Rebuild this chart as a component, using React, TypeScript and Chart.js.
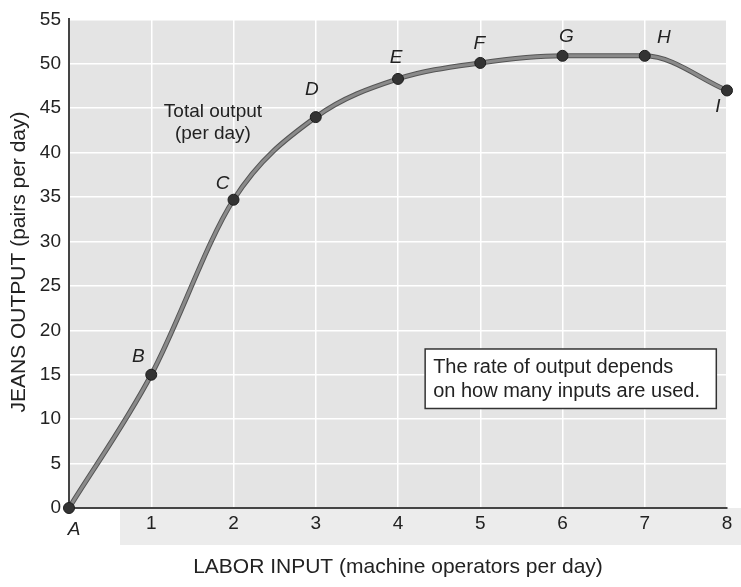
import React, { useEffect, useRef } from "react";
import { Chart, registerables } from "chart.js";
Chart.register(...registerables);

const laborInput = [0, 1, 2, 3, 4, 5, 6, 7, 8];
const jeansOutput = [0, 15, 34.7, 44, 48.3, 50.1, 50.9, 50.9, 47];
const pointLetters = ["A", "B", "C", "D", "E", "F", "G", "H", "I"];
const xTickLabels = ["", "1", "2", "3", "4", "5", "6", "7", "8"];
const curveLabel = ["Total output", "(per day)"];
const noteLines = ["The rate of output depends", "on how many inputs are used."];
const xTitle = "LABOR INPUT (machine operators per day)";
const yTitle = "JEANS OUTPUT (pairs per day)";

const FONT = "'Liberation Sans', Arial, Helvetica, sans-serif";

// pixel offsets of letter labels relative to their points
const letterOffsets: Record<string, [number, number]> = {
  A: [5, 22],
  B: [-13, -18],
  C: [-11, -16],
  D: [-4, -27],
  E: [-2, -21],
  F: [-1, -19],
  G: [4, -19],
  H: [19, -18],
  I: [-9, 16],
};

export default function App() {
  const ref = useRef<HTMLCanvasElement | null>(null);

  useEffect(() => {
    document.body.style.margin = "0";
    const canvas = ref.current;
    if (!canvas) return;
    const pts = laborInput.map((x, i) => ({ x, y: jeansOutput[i] }));

    const decor = {
      id: "decor",
      beforeDraw(chart: any) {
        const { ctx, chartArea: a } = chart;
        ctx.save();
        ctx.fillStyle = "#ffffff";
        ctx.fillRect(0, 0, chart.width, chart.height);
        ctx.fillStyle = "#e4e4e4";
        ctx.fillRect(a.left, a.top, a.right - a.left, a.bottom - a.top);
        ctx.fillStyle = "#ececec";
        ctx.fillRect(a.left + 51, a.bottom, chart.width - a.left - 51, 37);
        ctx.restore();
      },
      afterDraw(chart: any) {
        const { ctx } = chart;
        const xs = chart.scales.x;
        const ys = chart.scales.y;
        ctx.save();
        ctx.fillStyle = "#222";
        // letters
        ctx.font = `italic 19px ${FONT}`;
        ctx.textAlign = "center";
        ctx.textBaseline = "middle";
        pointLetters.forEach((l, i) => {
          const px = xs.getPixelForValue(laborInput[i]);
          const py = ys.getPixelForValue(jeansOutput[i]);
          const o = letterOffsets[l];
          ctx.fillText(l, px + o[0], py + o[1]);
        });
        // curve label
        ctx.font = `19px ${FONT}`;
        ctx.fillText(curveLabel[0], xs.getPixelForValue(1.75), ys.getPixelForValue(44.6));
        ctx.fillText(curveLabel[1], xs.getPixelForValue(1.75), ys.getPixelForValue(42.1));
        // note box
        const bx0 = xs.getPixelForValue(4.33);
        const bx1 = xs.getPixelForValue(7.87);
        const by0 = ys.getPixelForValue(17.9);
        const by1 = ys.getPixelForValue(11.2);
        ctx.fillStyle = "#ffffff";
        ctx.fillRect(bx0, by0, bx1 - bx0, by1 - by0);
        ctx.strokeStyle = "#333";
        ctx.lineWidth = 1.5;
        ctx.strokeRect(bx0, by0, bx1 - bx0, by1 - by0);
        ctx.fillStyle = "#222";
        ctx.font = `20px ${FONT}`;
        ctx.textAlign = "left";
        ctx.fillText(noteLines[0], bx0 + 8, by0 + 19);
        ctx.fillText(noteLines[1], bx0 + 8, by0 + 43);
        // axis titles
        ctx.font = `21px ${FONT}`;
        ctx.textAlign = "center";
        ctx.fillText(xTitle, 398, chart.height - 20);
        ctx.translate(19, 262);
        ctx.rotate(-Math.PI / 2);
        ctx.fillText(yTitle, 0, 0);
        ctx.restore();
      },
    };

    const chart = new Chart(canvas, {
      type: "line",
      data: {
        datasets: [
          {
            data: pts,
            borderColor: "#8a8a8a",
            borderWidth: 3,
            pointRadius: 5.5,
            pointBackgroundColor: "#333",
            pointBorderColor: "#1e1e1e",
            pointBorderWidth: 1,
            cubicInterpolationMode: "monotone",
            fill: false,
            clip: false,
            order: 0,
          },
          {
            data: pts,
            borderColor: "#555",
            borderWidth: 5,
            pointRadius: 0,
            cubicInterpolationMode: "monotone",
            fill: false,
            clip: false,
            order: 1,
          },
        ],
      },
      options: {
        responsive: false,
        animation: false,
        events: [],
        layout: { padding: { top: 15, right: 14, left: 0, bottom: 0 } },
        plugins: { legend: { display: false }, tooltip: { enabled: false }, title: { display: false } },
        scales: {
          x: {
            type: "linear",
            min: 0,
            max: 8,
            afterFit(scale: any) {
              scale.height = 79;
            },
            ticks: {
              stepSize: 1,
              padding: 4,
              color: "#222",
              font: { family: FONT, size: 19 },
              callback: (v: any) => xTickLabels[Number(v)] ?? "",
            },
            grid: { color: "#ffffff", lineWidth: 1.5, drawTicks: false },
            border: { display: true, color: "#444", width: 2 },
          },
          y: {
            min: 0,
            max: 55,
            afterFit(scale: any) {
              scale.width = 69;
            },
            ticks: {
              stepSize: 5,
              padding: 8,
              color: "#222",
              font: { family: FONT, size: 19 },
            },
            grid: { color: "#ffffff", lineWidth: 1.5, drawTicks: false },
            border: { display: true, color: "#444", width: 2 },
          },
        },
      },
      plugins: [decor],
    } as any);

    return () => chart.destroy();
  }, []);

  return <canvas ref={ref} width={741} height={587} style={{ display: "block" }} />;
}
